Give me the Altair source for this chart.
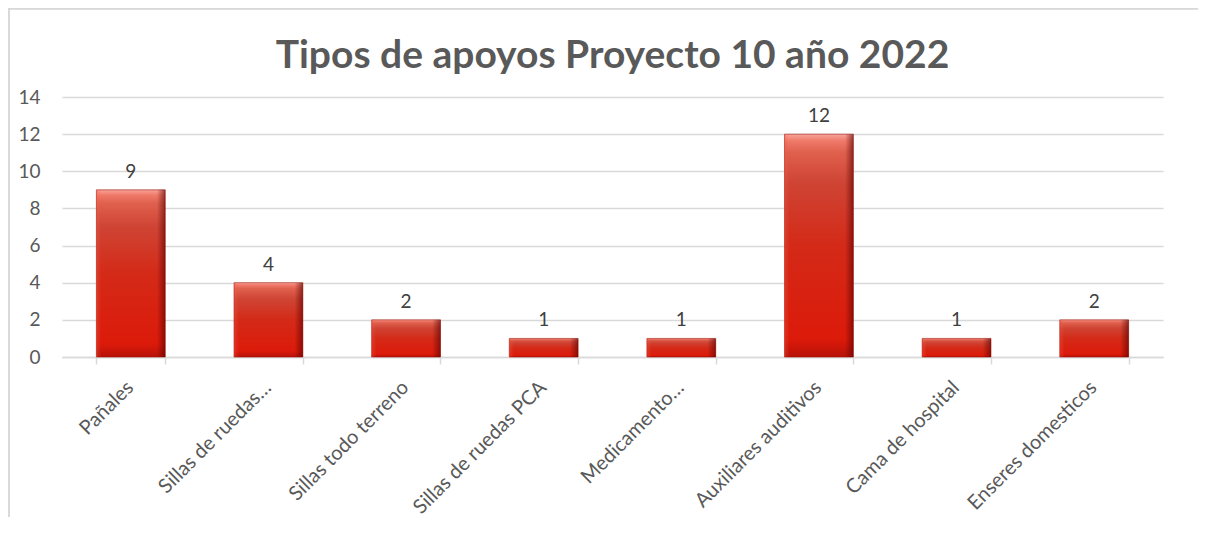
import altair as alt
import pandas as pd

categories = ["Pañales", "Sillas de ruedas…", "Sillas todo terreno", "Sillas de ruedas PCA",
              "Medicamento…", "Auxiliares auditivos", "Cama de hospital", "Enseres domesticos"]
values = [9, 4, 2, 1, 1, 12, 1, 2]
title_text = "Tipos de apoyos Proyecto 10 año 2022"
y_ticks = [0, 2, 4, 6, 8, 10, 12, 14]

df = pd.DataFrame({"cat": categories, "val": values})

FONT = "Lato"
GRAY = "#595959"

x_enc = alt.X("cat:N", sort=categories, title=None,
              scale=alt.Scale(paddingInner=0.5, paddingOuter=0.25),
              axis=alt.Axis(labelAngle=-45, labelFontSize=20, labelColor=GRAY, labelFont=FONT,
                            domainColor="#d9d9d9", domainWidth=1.5, tickColor="#d9d9d9",
                            tickWidth=1.5, tickSize=7, tickBand="extent", labelPadding=13,
                            labelOffset=-8, grid=False, labelLimit=300))
y_enc = alt.Y("val:Q", title=None,
              scale=alt.Scale(domain=[0, 14], nice=False, zero=True),
              axis=alt.Axis(values=y_ticks, tickCount=len(y_ticks), ticks=False, domain=False,
                            labelFontSize=19, labelColor=GRAY, labelFont=FONT, labelPadding=22,
                            labelOverlap=False,
                            gridColor="#d9d9d9", gridWidth=1.3))

base = alt.Chart(df)

vgrad = alt.Gradient(
    gradient="linear", x1=0, y1=0, x2=0, y2=1,
    stops=[
        alt.GradientStop(color="#f7a59b", offset=0),
        alt.GradientStop(color="#f07a6a", offset=0.03),
        alt.GradientStop(color="#e0604e", offset=0.08),
        alt.GradientStop(color="#cf4434", offset=0.22),
        alt.GradientStop(color="#d42a18", offset=0.5),
        alt.GradientStop(color="#dc1a0a", offset=0.92),
        alt.GradientStop(color="#b81208", offset=1),
    ])
hgrad = alt.Gradient(
    gradient="linear", x1=0, y1=0, x2=1, y2=0,
    stops=[
        alt.GradientStop(color="rgba(255,90,70,0.35)", offset=0),
        alt.GradientStop(color="rgba(255,90,70,0)", offset=0.07),
        alt.GradientStop(color="rgba(80,0,0,0)", offset=0.88),
        alt.GradientStop(color="rgba(90,0,0,0.6)", offset=1),
    ])

bars = base.mark_bar(color=vgrad, stroke="#9a1008", strokeWidth=0.6).encode(x=x_enc, y=y_enc)
bars2 = base.mark_bar(color=hgrad).encode(x=x_enc, y=y_enc)
labels = base.mark_text(dy=-18, fontSize=19, font=FONT, color="#404040").encode(
    x=x_enc, y=y_enc, text="val:Q")

border_top = base.mark_rule(color="#d9d9d9", strokeWidth=1.5).encode(
    x=alt.value(-54), x2=alt.value(1200), y=alt.value(-88.5))
border_left = base.mark_rule(color="#d9d9d9", strokeWidth=1.5).encode(
    x=alt.value(-53), y=alt.value(-89), y2=alt.value(500))

chart = alt.layer(border_top, border_left, bars, bars2, labels).properties(
    width=1101, height=260,
    title=alt.TitleParams(title_text, fontSize=39, font=FONT, fontWeight="bold",
                          color=GRAY, anchor="middle", frame="group",
                          baseline="alphabetic", offset=-100),
    autosize=alt.AutoSizeParams(type="none"),
    padding={"left": 54, "top": 89, "right": 35, "bottom": 160},
).configure_view(stroke=None)

chart.save("out.html", embed_options={"renderer": "svg", "actions": False})
